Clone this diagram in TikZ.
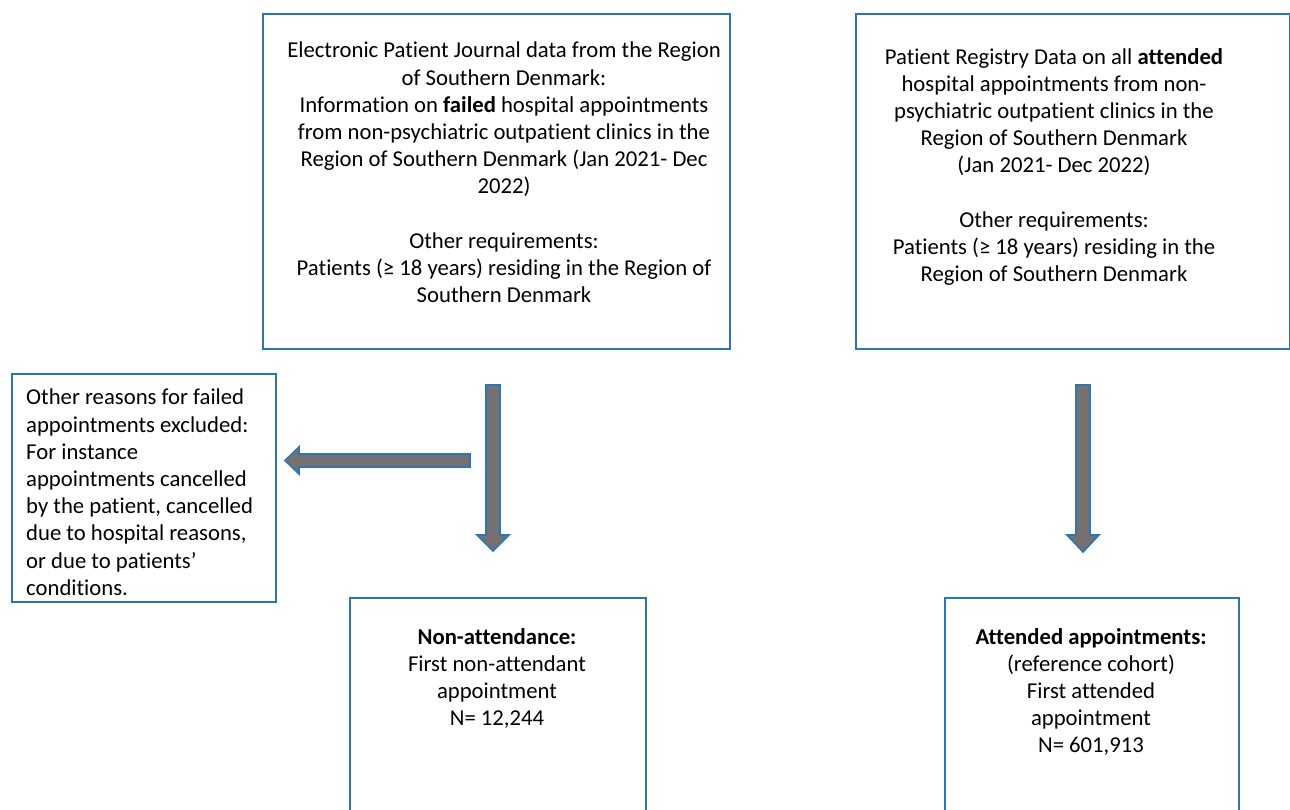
\documentclass[tikz,border=0pt]{standalone}
\usepackage{fontspec}
\setmainfont{Carlito}[Ligatures=NoCommon]
\definecolor{boxblue}{RGB}{46,117,182}
\definecolor{arrowgray}{RGB}{118,113,113}
\begin{document}
\begin{tikzpicture}[x=1pt,y=-1pt,
  frame/.style={draw=boxblue,line width=1.8pt,fill=white,inner sep=0pt,anchor=north west},
  txt/.style={font=\fontsize{22.7}{27.2}\selectfont,inner sep=0pt,anchor=north},
  blockarrow/.style={draw=boxblue,line width=1.6pt,fill=arrowgray,line join=miter}]
\useasboundingbox (0,0) rectangle (1290,810);
\clip (0,0) rectangle (1290,810);
% boxes
\node[frame,minimum width=467pt,minimum height=335pt] (src1) at (262,13) {};
\node[frame,minimum width=434pt,minimum height=335pt] (src2) at (855,13) {};
\node[frame,minimum width=264pt,minimum height=228pt] (excl) at (11,373) {};
\node[frame,minimum width=296pt,minimum height=240pt] (nonatt) at (349,597) {};
\node[frame,minimum width=294pt,minimum height=240pt] (att) at (944,597) {};
% texts
\node[txt,align=center] (t1) at (504,42) {Electronic Patient Journal data from the Region\\of Southern Denmark:\\Information on \textbf{failed} hospital appointments\\from non-psychiatric outpatient clinics in the\\Region of Southern Denmark (Jan 2021- Dec\\2022)\\[27.2pt]Other requirements:\\Patients (≥ 18 years) residing in the Region of\\Southern Denmark};
\node[txt,align=center] (t2) at (1054,48) {Patient Registry Data on all \textbf{attended}\\hospital appointments from non-\\psychiatric outpatient clinics in the\\Region of Southern Denmark\\(Jan 2021- Dec 2022)\\[27.2pt]Other requirements:\\Patients (≥ 18 years) residing in the\\Region of Southern Denmark};
\node[txt,align=left,anchor=north west] (t3) at (26,389) {Other reasons for failed\\appointments excluded:\\For instance\\appointments cancelled\\by the patient, cancelled\\due to hospital reasons,\\or due to patients’\\conditions.};
\node[txt,align=center] (t4) at (497,628) {\textbf{Non-attendance:}\\First non-attendant\\appointment\\N= 12,244};
\node[txt,align=center] (t5) at (1091,628) {\textbf{Attended appointments:}\\(reference cohort)\\First attended\\appointment\\N= 601,913};
% block arrows
\draw[blockarrow] (486,385) -- (500,385) -- (500,535) -- (509,535) -- (493,551) -- (477,535) -- (486,535) -- cycle;
\draw[blockarrow] (1076,385) -- (1090,385) -- (1090,535) -- (1099,535) -- (1083,552) -- (1067,535) -- (1076,535) -- cycle;
\draw[blockarrow] (470,454) -- (299,454) -- (299,447) -- (285,460.5) -- (299,474) -- (299,467) -- (470,467) -- cycle;
\end{tikzpicture}
\end{document}
